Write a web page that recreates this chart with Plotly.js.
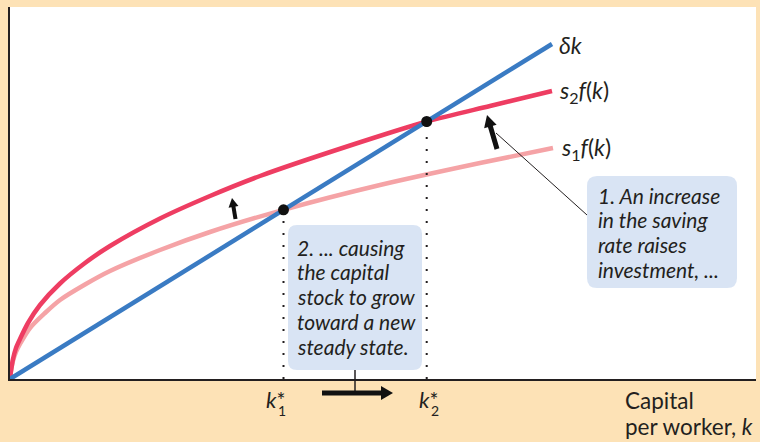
<!DOCTYPE html>
<html>
<head>
<meta charset="utf-8">
<script src="https://cdn.plot.ly/plotly-3.0.1.min.js"></script>
<style>html,body{margin:0;padding:0;background:#fde2b6;}#chart{width:760px;height:442px;}</style>
</head>
<body>
<div id="chart"></div>
<script>
// ---- data (k = capital per worker, vertical = investment / depreciation) ----
const deltaK_x = [0, 542];
const deltaK_y = [0, 335];
const s2f_x = [0, 1, 3, 6, 10, 18, 30, 50, 75, 100, 150, 200, 250, 337, 417, 480, 542];
const s2f_y = [0, 8, 20, 31, 40, 56, 74, 95.5, 116, 133, 160.5, 183, 203, 232.5, 257.5, 273, 288];
const s1f_x = [0, 1, 3, 6, 10, 20, 35, 50, 75, 100, 150, 200, 273.5, 370, 470, 543];
const s1f_y = [0, 8, 18, 27, 35, 51, 66, 79, 94.5, 108, 129, 147, 169.2, 194, 216, 231];
const steadyK = [273.5, 416.7];
const steadyY = [169.2, 257.5];
const curveLabels = ['<i>δk</i>', '<i>s</i><sub>2</sub><i>f</i>(<i>k</i>)', '<i>s</i><sub>1</sub><i>f</i>(<i>k</i>)'];
const kStarSubs = ['1', '2'];
const axisTitleLines = ['Capital', 'per worker, <i>k</i>'];
const note1Lines = ['1. An increase', 'in the saving', 'rate raises', 'investment, ...'];
const note2Lines = ['2. ... causing', 'the capital', 'stock to grow', 'toward a new', 'steady state.'];

// ---- pixel helpers for layout decorations ----
const W = 760, H = 442, ML = 10, MR = 4, MT = 7, MB = 63;
const PW = W - ML - MR, PH = H - MT - MB;
const PX = p => (p - ML) / PW;
const PY = p => (H - MB - p) / PH;

const ink = '#231f20';
const FONT = 'Lato, "Open Sans", sans-serif';

const traces = [
  {x: s1f_x, y: s1f_y, mode: 'lines', line: {color: '#f5a3a6', width: 4.5, shape: 'spline', smoothing: 0.8}, hoverinfo: 'skip'},
  {x: s2f_x, y: s2f_y, mode: 'lines', line: {color: '#ee3d62', width: 4.5, shape: 'spline', smoothing: 0.8}, hoverinfo: 'skip'},
  {x: deltaK_x, y: deltaK_y, mode: 'lines', line: {color: '#3a7bc3', width: 4.5}, hoverinfo: 'skip'},
  {x: [steadyK[0], steadyK[0]], y: [0, steadyY[0]], mode: 'lines', line: {color: ink, width: 2, dash: '2px,10px'}, hoverinfo: 'skip'},
  {x: [steadyK[1], steadyK[1]], y: [0, steadyY[1]], mode: 'lines', line: {color: ink, width: 2, dash: '2px,10px'}, hoverinfo: 'skip'},
  {x: steadyK, y: steadyY, mode: 'markers', marker: {color: '#111', size: 11}, cliponaxis: false, hoverinfo: 'skip'}
];

function roundRect(x0, y0, x1, y1, r) {
  const a = PX(x0), b = PX(x1), top = PY(y0), bot = PY(y1);
  const rx = r / PW, ry = r / PH;
  return `M${a + rx},${top} L${b - rx},${top} Q${b},${top} ${b},${top - ry} L${b},${bot + ry} Q${b},${bot} ${b - rx},${bot} L${a + rx},${bot} Q${a},${bot} ${a},${bot + ry} L${a},${top - ry} Q${a},${top} ${a + rx},${top} Z`;
}

// thick arrow = shaft line + filled triangular head (pixel geometry)
function arrowShapes(tx, ty, hx, hy, shaft, headLen, headHalf) {
  const dx = hx - tx, dy = hy - ty, len = Math.hypot(dx, dy);
  const ux = dx / len, uy = dy / len, nx = -uy, ny = ux;
  const bx = hx - headLen * ux, by = hy - headLen * uy;
  return [
    {type: 'line', xref: 'paper', yref: 'paper', x0: PX(tx), y0: PY(ty), x1: PX(bx + ux), y1: PY(by + uy),
     line: {color: '#111', width: shaft}},
    {type: 'path', xref: 'paper', yref: 'paper', fillcolor: '#111', line: {width: 0},
     path: `M${PX(hx)},${PY(hy)} L${PX(bx + headHalf * nx)},${PY(by + headHalf * ny)} L${PX(bx - headHalf * nx)},${PY(by - headHalf * ny)} Z`}
  ];
}

const shapes = [
  {type: 'path', xref: 'paper', yref: 'paper', path: roundRect(288, 225, 422, 370, 9), fillcolor: '#d9e4f4', line: {width: 0}, layer: 'below'},
  {type: 'path', xref: 'paper', yref: 'paper', path: roundRect(587, 176, 737, 288, 10), fillcolor: '#d9e4f4', line: {width: 0}, layer: 'below'},
  {type: 'line', xref: 'paper', yref: 'paper', x0: PX(587), y0: PY(215), x1: PX(496), y1: PY(133), line: {color: ink, width: 1}},
  {type: 'line', xref: 'paper', yref: 'paper', x0: PX(355), y0: PY(370), x1: PX(355), y1: PY(393), line: {color: ink, width: 1.5}},
  ...arrowShapes(497, 149, 487, 115, 5, 12, 6.5),
  ...arrowShapes(235.5, 219, 232, 198, 4, 9, 5),
  ...arrowShapes(322, 393, 393, 393, 5, 12, 7)
];

const annotations = [];
const labelPos = [[557, 45], [557, 91], [559, 148]];
curveLabels.forEach((t, i) => annotations.push({
  xref: 'paper', yref: 'paper', x: PX(labelPos[i][0]), y: PY(labelPos[i][1]), xanchor: 'left', yanchor: 'middle',
  text: t, showarrow: false, font: {family: FONT, size: 23, color: ink}
}));
// k* labels: one text each, star with a subscript stacked beneath it
const kLabelX = [265, 418];
kStarSubs.forEach((s, i) => {
  annotations.push({xref: 'paper', yref: 'paper', x: PX(kLabelX[i]), y: PY(385), xanchor: 'left', yanchor: 'top',
    text: '<i>k</i><span style="font-size:21px;letter-spacing:-7.5px">*</span>' +
          '<span style="font-size:14px;baseline-shift:-7.5px">' + s + '</span>',
    showarrow: false, borderpad: 0, font: {family: FONT, size: 22, color: ink}});
});
axisTitleLines.forEach((t, i) => annotations.push({
  xref: 'paper', yref: 'paper', x: PX(623), y: PY(400 + 27 * i), xanchor: 'left', yanchor: 'middle',
  text: t, showarrow: false, font: {family: FONT, size: 22.5, color: ink}
}));
note1Lines.forEach((t, i) => annotations.push({
  xref: 'paper', yref: 'paper', x: PX(596), y: PY(195 + 24.7 * i), xanchor: 'left', yanchor: 'middle',
  text: '<i>' + t + '</i>', showarrow: false, font: {family: FONT, size: 21, color: ink}
}));
note2Lines.forEach((t, i) => annotations.push({
  xref: 'paper', yref: 'paper', x: PX(295), y: PY(247 + 24.8 * i), xanchor: 'left', yanchor: 'middle',
  text: '<i>' + t + '</i>', showarrow: false, font: {family: FONT, size: 21, color: ink}
}));

const layout = {
  width: W, height: H,
  margin: {l: ML, r: MR, t: MT, b: MB, pad: 0},
  paper_bgcolor: '#fde2b6', plot_bgcolor: '#ffffff',
  showlegend: false,
  xaxis: {range: [0, PW], showgrid: false, zeroline: false, showticklabels: false, ticks: '',
          showline: true, linecolor: ink, linewidth: 2, fixedrange: true},
  yaxis: {range: [0, PH], showgrid: false, zeroline: false, showticklabels: false, ticks: '',
          showline: true, linecolor: ink, linewidth: 2, fixedrange: true},
  shapes: shapes,
  annotations: annotations,
  font: {family: FONT, color: ink}
};

Plotly.newPlot('chart', traces, layout, {displayModeBar: false, staticPlot: true});
</script>
</body>
</html>
